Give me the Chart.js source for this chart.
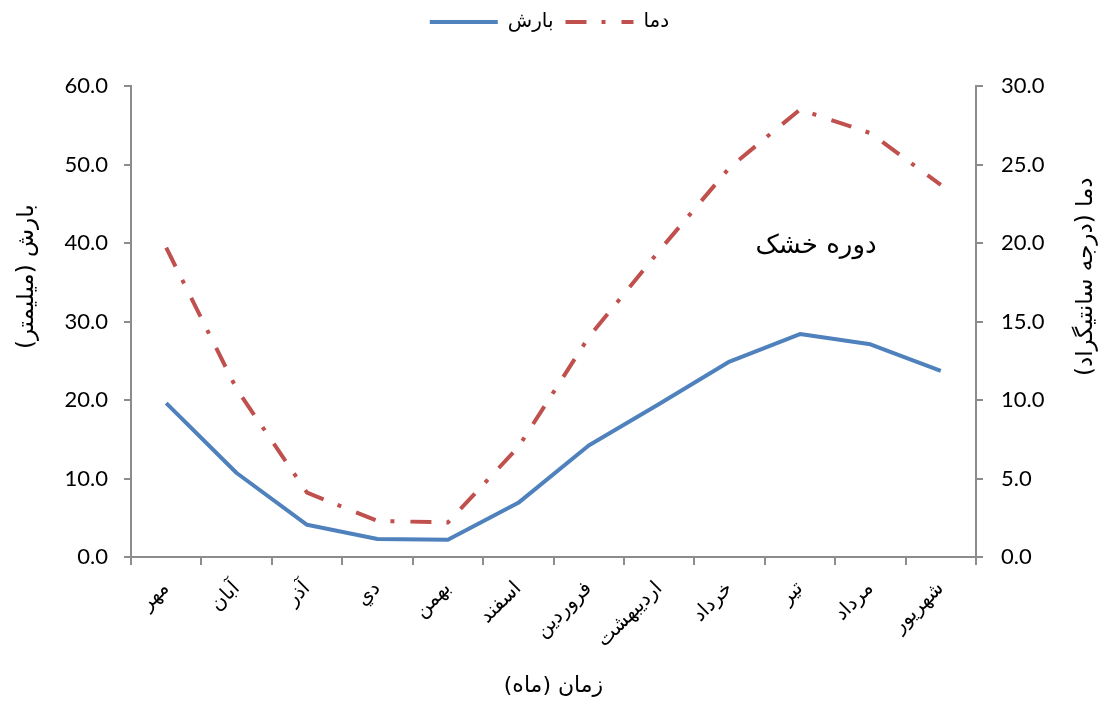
<!DOCTYPE html>
<html>
<head>
<meta charset="utf-8">
<script src="https://cdn.jsdelivr.net/npm/chart.js@4"></script>
<style>
    html, body { margin: 0; background: #fff; }
</style>
</head>
<body>
<canvas id="myChart" width="1099" height="704"></canvas>
<script>
// @ts-check

const months = ['مهر', 'آبان', 'آذر', 'دي', 'بهمن', 'اسفند', 'فروردین', 'اردیبهشت', 'خرداد', 'تیر', 'مرداد', 'شهریور'];
const precipitation = [19.6, 10.7, 4.1, 2.3, 2.2, 6.9, 14.2, 19.5, 24.9, 28.4, 27.1, 23.7];
const temperature = [19.7, 10.7, 4.1, 2.3, 2.2, 7.0, 14.0, 19.5, 24.8, 28.5, 27.0, 23.7];

const precipLabel = 'بارش';
const tempLabel = 'دما';
const leftTitle = 'بارش (میلیمتر)';
const rightTitle = 'دما (درجه سانتیگراد)';
const xTitle = 'زمان (ماه)';
const note = 'دوره خشک';

const axisColor = '#8c8c8c';
const numFont = "Lato, 'DejaVu Sans', sans-serif";
const arFont = "'DejaVu Sans', sans-serif";
const legendGap = 44;

// Persian titles drawn right-to-left, y titles a bit above centre like the original
const extraText = {
    id: 'extraText',
    beforeLayout(chart) {
        const legend = chart.legend;
        if (legend && !legend._gapPatched) {
            const fit = legend.fit;
            legend.fit = function () {
                fit.call(this);
                this.height += legendGap;
            };
            legend._gapPatched = true;
        }
    },
    afterDraw(chart) {
        const { ctx, chartArea } = chart;
        const midY = chartArea.top + (chartArea.bottom - chartArea.top) * 0.405;
        ctx.save();
        ctx.fillStyle = '#000';
        ctx.textAlign = 'center';
        ctx.textBaseline = 'middle';
        ctx.direction = 'rtl';
        ctx.font = `23px ${arFont}`;

        ctx.save();
        ctx.translate(27, midY);
        ctx.rotate(-Math.PI / 2);
        ctx.fillText(leftTitle, 0, 0);
        ctx.restore();

        ctx.save();
        ctx.translate(1086, midY);
        ctx.rotate(-Math.PI / 2);
        ctx.fillText(rightTitle, 0, 0);
        ctx.restore();

        ctx.font = `22px ${arFont}`;
        ctx.fillText(xTitle, (chartArea.left + chartArea.right) / 2, 686);

        ctx.font = `26px ${arFont}`;
        const x = chart.scales.x.getPixelForValue(9) + 16;
        const y = chart.scales.y.getPixelForValue(39.6);
        ctx.fillText(note, x, y);
        ctx.restore();
    }
};

const ctx = document.getElementById('myChart').getContext('2d');

new Chart(ctx, {
    type: 'line',
    data: {
        labels: months,
        datasets: [{
            label: precipLabel,
            data: precipitation,
            borderColor: '#4F81BD',
            backgroundColor: '#4F81BD',
            borderWidth: 4,
            pointRadius: 0,
            borderJoinStyle: 'round',
            yAxisID: 'y',
        }, {
            label: tempLabel,
            data: temperature,
            borderColor: '#C0504D',
            backgroundColor: '#C0504D',
            borderWidth: 4,
            borderDash: [21, 15, 4, 16],
            pointRadius: 0,
            yAxisID: 'y1',
        }]
    },
    options: {
        responsive: false,
        animation: false,
        devicePixelRatio: 1,
        layout: { padding: { top: 0 } },
        plugins: {
            legend: {
                position: 'top',
                labels: {
                    usePointStyle: true,
                    pointStyle: 'line',
                    pointStyleWidth: 68,
                    color: '#000',
                    padding: 12,
                    font: { family: arFont, size: 20 },
                    generateLabels(chart) {
                        const items = Chart.defaults.plugins.legend.labels.generateLabels(chart);
                        items.forEach(item => {
                            const ds = chart.data.datasets[item.datasetIndex];
                            item.lineDash = ds.borderDash || [];
                            item.lineWidth = ds.borderWidth;
                            item.strokeStyle = ds.borderColor;
                        });
                        return items;
                    },
                }
            },
            tooltip: { enabled: false },
        },
        scales: {
            x: {
                offset: true,
                grid: { offset: true, drawOnChartArea: false, tickLength: 8, color: axisColor, lineWidth: 2 },
                border: { color: axisColor, width: 2 },
                ticks: {
                    minRotation: 45,
                    maxRotation: 45,
                    color: '#000',
                    padding: 12,
                    font: { family: arFont, size: 20 },
                },
                afterFit: s => { s.height = 147; },
            },
            y: {
                position: 'left',
                min: 0,
                max: 60,
                grid: { drawOnChartArea: false, tickLength: 7, color: axisColor, lineWidth: 2 },
                border: { color: axisColor, width: 2 },
                ticks: {
                    stepSize: 10,
                    padding: 16,
                    color: '#000',
                    font: { family: numFont, size: 22 },
                    callback: v => Number(v).toFixed(1),
                },
                afterFit: s => { s.width = 131; },
            },
            y1: {
                position: 'right',
                min: 0,
                max: 30,
                grid: { drawOnChartArea: false, tickLength: 7, color: axisColor, lineWidth: 2 },
                border: { color: axisColor, width: 2 },
                ticks: {
                    stepSize: 5,
                    padding: 18,
                    color: '#000',
                    font: { family: numFont, size: 22 },
                    callback: v => Number(v).toFixed(1),
                },
                afterFit: s => { s.width = 123; },
            },
        }
    },
    plugins: [extraText],
});
</script>
</body>
</html>
